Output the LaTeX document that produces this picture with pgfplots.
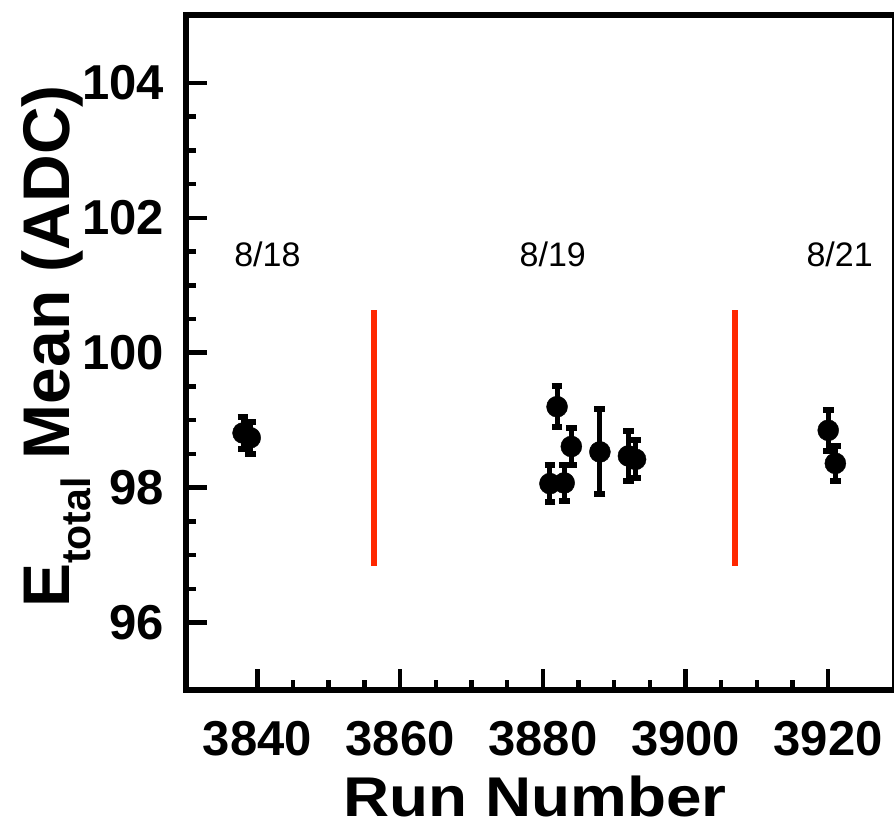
\documentclass[border=0pt]{standalone}
\usepackage{pgfplots}
\pgfplotsset{compat=1.18}
\usepackage{pgfplotstable}
\usepackage{fontspec}
\setmainfont{Liberation Sans}
\definecolor{redline}{RGB}{255,40,0}
\pgfplotstableread{
x y e
3838 98.81 0.24
3839 98.74 0.24
3881 98.06 0.28
3882 99.20 0.30
3883 98.07 0.27
3884 98.61 0.28
3888 98.53 0.63
3892 98.47 0.37
3893 98.42 0.28
3920 98.85 0.30
3921 98.36 0.26
}\runs
\begin{document}
\begin{tikzpicture}
\begin{axis}[
  scale only axis,
  width=709.3bp, height=674.5bp,
  xmin=3830, xmax=3929.4, ymin=95, ymax=105,
  xtick={3840,3860,3880,3900,3920},
  ytick={96,98,100,102,104},
  minor x tick num=3, minor y tick num=3,
  tick pos=left, tick align=inside,
  major tick length=21bp, minor tick length=10bp,
  every tick/.style={black, line width=4.5bp},
  axis line style={line width=6bp},
  /pgf/number format/assume math mode=true,
  /pgf/number format/1000 sep={},
  xticklabel style={font=\bfseries\fontsize{49bp}{60bp}\selectfont, anchor=base, yshift=-65bp, inner sep=0pt},
  yticklabel style={font=\bfseries\fontsize{49bp}{60bp}\selectfont, anchor=east, inner sep=0pt, xshift=-22bp},
  clip=false,
]
\addplot[redline, line width=6bp] coordinates {(3856.4,96.84) (3856.4,100.63)};
\addplot[redline, line width=6bp] coordinates {(3906.9,96.84) (3906.9,100.63)};
\addplot[only marks, mark=*, mark size=10.5bp, black,
  error bars/.cd, y dir=both, y explicit,
  error bar style={line width=5bp, black},
  error mark options={rotate=90, mark size=5.4bp, line width=6bp, black}]
  table[x=x, y=y, y error=e] {\runs};
\node[anchor=base, font=\fontsize{34bp}{40bp}\selectfont] at (axis cs:3841.4,101.28) {8/18};
\node[anchor=base, font=\fontsize{34bp}{40bp}\selectfont] at (axis cs:3881.4,101.28) {8/19};
\node[anchor=base, font=\fontsize{34bp}{40bp}\selectfont] at (axis cs:3921.6,101.28) {8/21};
\end{axis}
\node[rotate=90, anchor=base, inner sep=0pt, font=\bfseries\fontsize{66bp}{70bp}\selectfont] at (-116.7bp,343.5bp) {E\raisebox{-21bp}{\fontsize{41bp}{41bp}\selectfont total} Mean (ADC)};
\node[anchor=base, inner sep=0pt, font=\bfseries\fontsize{56bp}{60bp}\selectfont] at (349bp,-126bp) {\scalebox{1.14}[1]{Run Number}};
\pgfresetboundingbox
\path[use as bounding box] (-186bp,-137bp) rectangle (708bp,690bp);
\end{tikzpicture}
\end{document}
